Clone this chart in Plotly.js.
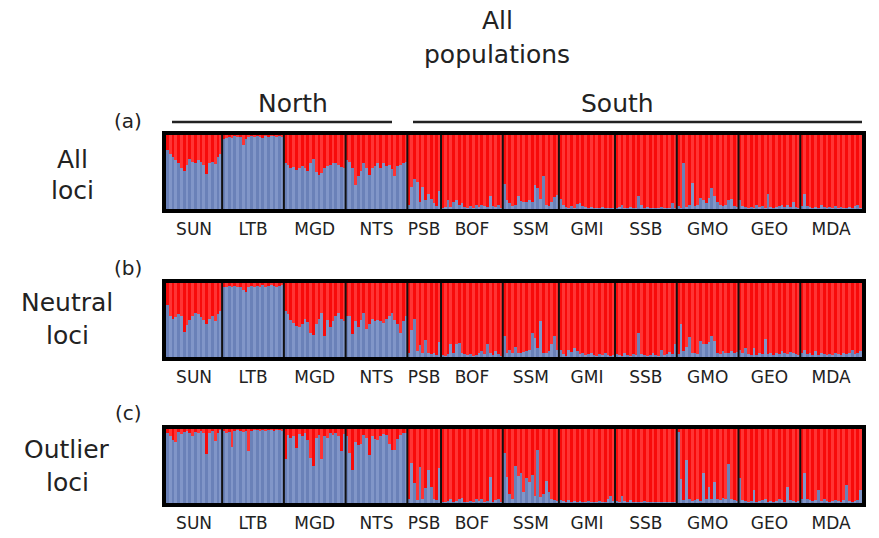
<!DOCTYPE html>
<html><head><meta charset="utf-8">
<script src="https://cdn.plot.ly/plotly-3.0.1.min.js"></script>
<style>html,body{margin:0;padding:0;background:#fff}#chart{width:879px;height:538px}</style>
</head><body><div id="chart"></div>
<script>
const populations = ["SUN","LTB","MGD","NTS","PSB","BOF","SSM","GMI","SSB","GMO","GEO","MDA"];
const panelTags = ["(a)","(b)","(c)"];
const panelNames = [["All","loci"],["Neutral","loci"],["Outlier","loci"]];

// Proportion of membership in the northern (blue) cluster, per individual
const allLoci = {
  SUN:[0.80,0.75,0.70,0.66,0.62,0.55,0.52,0.60,0.68,0.64,0.62,0.66,0.63,0.60,0.47,0.62,0.64,0.61,0.70,0.74],
  LTB:[0.95,0.96,0.97,0.96,0.98,0.97,0.97,0.86,0.95,0.97,0.98,0.97,0.98,0.97,0.96,0.98,0.97,0.98,0.98,0.97,0.98,0.97],
  MGD:[0.62,0.60,0.55,0.57,0.53,0.55,0.58,0.56,0.52,0.62,0.68,0.50,0.46,0.48,0.55,0.58,0.60,0.62,0.62,0.60,0.57,0.56],
  NTS:[0.66,0.64,0.55,0.33,0.45,0.52,0.62,0.56,0.46,0.55,0.58,0.62,0.56,0.62,0.58,0.60,0.54,0.44,0.58,0.60,0.62,0.64],
  PSB:[0.05,0.30,0.41,0.36,0.10,0.30,0.12,0.20,0.14,0.08,0.04,0.24],
  BOF:[0.02,0.03,0.12,0.03,0.10,0.12,0.06,0.08,0.03,0.02,0.04,0.02,0.05,0.03,0.06,0.04,0.03,0.18,0.04,0.03,0.06,0.02],
  SSM:[0.34,0.12,0.08,0.04,0.06,0.18,0.11,0.10,0.09,0.12,0.10,0.32,0.28,0.14,0.44,0.06,0.04,0.09,0.16,0.19],
  GMI:[0.13,0.06,0.03,0.02,0.04,0.02,0.07,0.08,0.04,0.03,0.02,0.03,0.02,0.01,0.02,0.03,0.02,0.01,0.02,0.02],
  SSB:[0.02,0.03,0.05,0.02,0.02,0.03,0.02,0.02,0.17,0.05,0.02,0.03,0.02,0.02,0.01,0.02,0.03,0.02,0.02,0.02,0.08,0.02],
  GMO:[0.04,0.02,0.62,0.03,0.06,0.35,0.04,0.05,0.15,0.12,0.08,0.15,0.28,0.17,0.10,0.06,0.04,0.05,0.12,0.14,0.04,0.03],
  GEO:[0.12,0.04,0.03,0.02,0.03,0.02,0.05,0.03,0.04,0.02,0.20,0.03,0.02,0.03,0.04,0.05,0.03,0.06,0.03,0.09,0.03,0.02],
  MDA:[0.04,0.20,0.04,0.03,0.02,0.03,0.02,0.06,0.03,0.02,0.03,0.02,0.04,0.02,0.03,0.02,0.02,0.03,0.02,0.04,0.05,0.02]
};
const neutralLoci = {
  SUN:[0.70,0.56,0.52,0.54,0.58,0.55,0.34,0.43,0.50,0.55,0.60,0.58,0.54,0.50,0.44,0.52,0.56,0.48,0.58,0.62],
  LTB:[0.94,0.95,0.96,0.95,0.96,0.94,0.95,0.90,0.88,0.95,0.96,0.94,0.96,0.95,0.97,0.95,0.96,0.97,0.96,0.95,0.96,0.97],
  MGD:[0.62,0.58,0.50,0.46,0.42,0.40,0.44,0.52,0.47,0.32,0.30,0.45,0.52,0.60,0.28,0.50,0.40,0.48,0.55,0.60,0.52,0.48],
  NTS:[0.55,0.56,0.31,0.48,0.40,0.50,0.60,0.38,0.45,0.52,0.48,0.50,0.48,0.46,0.52,0.56,0.60,0.50,0.45,0.33,0.48,0.55],
  PSB:[0.06,0.36,0.52,0.08,0.16,0.05,0.23,0.06,0.04,0.05,0.03,0.20],
  BOF:[0.03,0.02,0.04,0.17,0.05,0.18,0.19,0.06,0.04,0.03,0.04,0.02,0.03,0.05,0.08,0.04,0.17,0.05,0.03,0.08,0.04,0.02],
  SSM:[0.28,0.06,0.10,0.05,0.13,0.06,0.05,0.07,0.08,0.10,0.33,0.26,0.12,0.48,0.06,0.05,0.08,0.18,0.29,0.10],
  GMI:[0.10,0.04,0.02,0.10,0.07,0.12,0.08,0.04,0.06,0.03,0.04,0.05,0.03,0.02,0.04,0.03,0.05,0.03,0.02,0.03],
  SSB:[0.04,0.03,0.02,0.05,0.03,0.02,0.04,0.03,0.32,0.04,0.03,0.02,0.03,0.06,0.03,0.02,0.10,0.03,0.04,0.07,0.04,0.17],
  GMO:[0.04,0.45,0.08,0.14,0.27,0.06,0.05,0.04,0.22,0.18,0.17,0.20,0.29,0.22,0.06,0.04,0.08,0.05,0.06,0.08,0.05,0.07],
  GEO:[0.10,0.05,0.12,0.04,0.03,0.12,0.03,0.05,0.04,0.25,0.04,0.05,0.03,0.06,0.04,0.08,0.05,0.04,0.07,0.06,0.04,0.03],
  MDA:[0.05,0.10,0.04,0.06,0.03,0.08,0.03,0.05,0.04,0.03,0.04,0.03,0.06,0.04,0.03,0.05,0.04,0.06,0.10,0.04,0.06,0.08]
};
const outlierLoci = {
  SUN:[0.95,0.90,0.85,0.82,0.96,0.93,0.96,0.97,0.95,0.90,0.96,0.94,0.97,0.95,0.66,0.95,0.97,0.84,0.95,0.98],
  LTB:[0.97,0.95,0.96,0.76,0.97,0.98,0.97,0.96,0.97,0.70,0.97,0.98,0.98,0.97,0.98,0.97,0.98,0.98,0.97,0.98,0.98,0.97],
  MGD:[0.59,0.92,0.88,0.90,0.74,0.93,0.90,0.95,0.85,0.61,0.50,0.88,0.92,0.60,0.90,0.88,0.95,0.92,0.94,0.90,0.70,0.93],
  NTS:[0.90,0.68,0.45,0.82,0.78,0.80,0.92,0.88,0.65,0.90,0.86,0.85,0.90,0.93,0.92,0.80,0.72,0.72,0.86,0.92,0.95,0.94],
  PSB:[0.05,0.54,0.27,0.04,0.48,0.06,0.20,0.45,0.22,0.06,0.04,0.47],
  BOF:[0.02,0.01,0.03,0.06,0.02,0.03,0.05,0.07,0.02,0.02,0.03,0.02,0.05,0.03,0.06,0.02,0.03,0.35,0.02,0.04,0.05,0.02],
  SSM:[0.68,0.35,0.12,0.06,0.50,0.36,0.40,0.15,0.34,0.28,0.38,0.10,0.71,0.08,0.12,0.30,0.15,0.06,0.04,0.03],
  GMI:[0.04,0.03,0.02,0.04,0.02,0.03,0.02,0.03,0.02,0.02,0.03,0.02,0.01,0.02,0.03,0.02,0.02,0.05,0.10,0.03],
  SSB:[0.03,0.02,0.10,0.03,0.02,0.04,0.02,0.02,0.01,0.02,0.03,0.02,0.01,0.02,0.02,0.01,0.02,0.02,0.01,0.02,0.02,0.02],
  GMO:[0.96,0.32,0.04,0.58,0.05,0.03,0.04,0.06,0.03,0.40,0.05,0.22,0.06,0.29,0.05,0.04,0.07,0.06,0.53,0.05,0.04,0.03],
  GEO:[0.34,0.04,0.03,0.02,0.03,0.17,0.02,0.03,0.04,0.05,0.02,0.03,0.02,0.03,0.06,0.04,0.02,0.22,0.04,0.03,0.02,0.03],
  MDA:[0.05,0.40,0.06,0.04,0.03,0.04,0.17,0.03,0.05,0.03,0.02,0.03,0.04,0.03,0.02,0.04,0.25,0.03,0.02,0.03,0.04,0.17]
};
const panels = [allLoci, neutralLoci, outlierLoci];

const W = 879, H = 538;
const FONT = "DejaVu Sans, Arial, sans-serif";
const px = v => v / W, py = v => 1 - v / H;
const xDom = [px(166), px(862)];
const yDoms = [[py(209), py(135)], [py(357), py(283)], [py(503), py(429)]];

const redCols = ["#f80a0a", "#ff3434"];
const blueCols = ["#6a81b8", "#8196c8"];

const traces = [];
const shapes = [];
const annotations = [];
const layout = {
  width: W, height: H, margin: {l: 0, r: 0, t: 0, b: 0},
  paper_bgcolor: "#fff", plot_bgcolor: "#fff",
  barmode: "stack", bargap: 0, showlegend: false,
  font: {family: FONT, color: "#222"}
};

panels.forEach((data, p) => {
  const xs = [], blue = [], red = [], bc = [], rc = [];
  const tickvals = [], bounds = [];
  let idx = 0;
  populations.forEach(pop => {
    const vals = data[pop];
    tickvals.push(idx + (vals.length - 1) / 2);
    vals.forEach(v => {
      xs.push(idx); blue.push(v); red.push(1 - v);
      bc.push(blueCols[idx % 2]); rc.push(redCols[idx % 2]);
      idx++;
    });
    bounds.push(idx - 0.5);
  });
  const n = idx;
  const ax = p === 0 ? "" : String(p + 1);
  traces.push({type: "bar", x: xs, y: blue, marker: {color: bc, line: {width: 0}}, xaxis: "x" + ax, yaxis: "y" + ax, hoverinfo: "skip"});
  traces.push({type: "bar", x: xs, y: red, marker: {color: rc, line: {width: 0}}, xaxis: "x" + ax, yaxis: "y" + ax, hoverinfo: "skip"});
  layout["xaxis" + ax] = {
    domain: xDom, anchor: "y" + ax, range: [-0.5, n - 0.5],
    tickvals: tickvals, ticktext: populations, ticks: "", showgrid: false, zeroline: false,
    showline: false, tickfont: {size: 17, color: "#222", family: FONT}, ticklabelstandoff: 8, fixedrange: true
  };
  layout["yaxis" + ax] = {
    domain: yDoms[p], anchor: "x" + ax, range: [0, 1], showticklabels: false, ticks: "",
    showgrid: false, zeroline: false, showline: false, fixedrange: true
  };
  bounds.slice(0, -1).forEach(b => {
    shapes.push({type: "line", xref: "x" + ax, yref: "y" + ax + " domain", x0: b, x1: b, y0: 0, y1: 1,
      line: {color: "#111", width: 2}});
  });
  shapes.push({type: "rect", xref: "x" + ax + " domain", yref: "y" + ax + " domain",
    x0: -2 / 696, x1: 1 + 2 / 696, y0: -2 / 74, y1: 1 + 2 / 74, line: {color: "#000", width: 4}});
});

// Header texts
const txt = (t, x, y, size) => annotations.push({text: t, xref: "paper", yref: "paper", x: px(x), y: py(y),
  xanchor: "center", yanchor: "middle", showarrow: false, font: {size: size, family: FONT, color: "#222"}});
txt("All", 497, 20, 25);
txt("populations", 497, 55, 25);
txt("North", 293, 103, 25);
txt("South", 617, 103, 25);
shapes.push({type: "line", xref: "paper", yref: "paper", x0: px(172), x1: px(392), y0: py(122), y1: py(122), line: {color: "#222", width: 2.5}});
shapes.push({type: "line", xref: "paper", yref: "paper", x0: px(413), x1: px(862), y0: py(122), y1: py(122), line: {color: "#222", width: 2.5}});
const tagY = [121, 268, 413];
const nameY = [[159, 190], [302, 335], [449, 482]];
const nameX = [72, 67, 67];
panelTags.forEach((t, i) => {
  txt(t, 128, tagY[i], 20);
  txt(panelNames[i][0], nameX[i], nameY[i][0], 25);
  txt(panelNames[i][1], nameX[i], nameY[i][1], 25);
});
layout.shapes = shapes;
layout.annotations = annotations;

Plotly.newPlot("chart", traces, layout, {staticPlot: true, displayModeBar: false});
</script></body></html>
